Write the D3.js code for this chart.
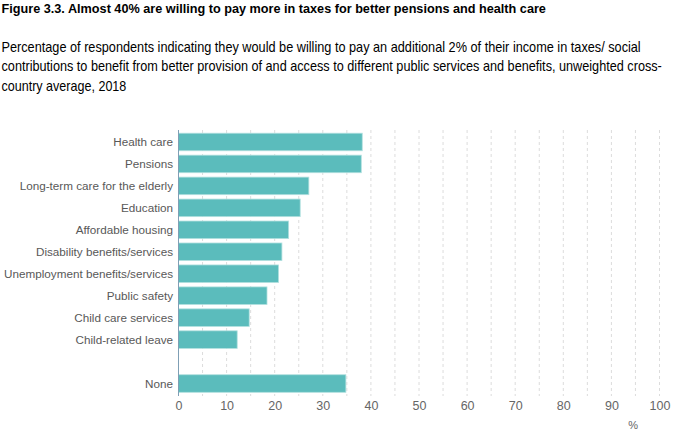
<!DOCTYPE html>
<html>
<head>
<meta charset="utf-8">
<script src="https://cdn.jsdelivr.net/npm/d3@7"></script>
<style>
  html, body { margin: 0; padding: 0; background: #fff; }
  svg { display: block; }
</style>
</head>
<body>
<svg id="chart" width="680" height="435"></svg>
<script>
const titleText = "Figure 3.3. Almost 40% are willing to pay more in taxes for better pensions and health care";
const subtitleLines = [
  "Percentage of respondents indicating they would be willing to pay an additional 2% of their income in taxes/ social",
  "contributions to benefit from better provision of and access to different public services and benefits, unweighted cross-",
  "country average, 2018"
];
const categories = [
  "Health care", "Pensions", "Long-term care for the elderly", "Education",
  "Affordable housing", "Disability benefits/services", "Unemployment benefits/services",
  "Public safety", "Child care services", "Child-related leave", "", "None"
];
const values = [38.2, 38.0, 27.1, 25.3, 22.9, 21.5, 20.8, 18.4, 14.7, 12.2, null, 34.8];
const xTicks = [0, 10, 20, 30, 40, 50, 60, 70, 80, 90, 100];
const gridTicks = d3.range(5, 101, 5);
const unitLabel = "%";

const svg = d3.select("#chart");
const sans = "'Liberation Sans', Arial, sans-serif";

// narrow-looking text: scale horizontally to the target width
function narrowText(txt, x0, y0, size, weight, targetW) {
  const t = svg.append("text").attr("x", 0).attr("y", 0)
    .attr("font-family", sans).attr("font-weight", weight).attr("font-size", size)
    .attr("fill", "#000").text(txt);
  const w = t.node().getComputedTextLength();
  const sx = w > 0 ? targetW / w : 1;
  t.attr("transform", `translate(${x0},${y0}) scale(${sx},1)`);
  return t;
}

narrowText(titleText, 1.5, 12.5, 13, "bold", 545);
const subLens = [640, 661, 125];
subtitleLines.forEach((t, i) => narrowText(t, 1.5, 51.5 + i * 19.5, 14, "normal", subLens[i]));

const x = d3.scaleLinear().domain([0, 100]).range([178.5, 659.5]);
const y = d3.scaleBand().domain(categories).range([131, 394.5]).paddingInner(0.2).paddingOuter(0.1);

// grid
svg.append("g").selectAll("line").data(gridTicks).join("line")
  .attr("x1", d => x(d)).attr("x2", d => x(d))
  .attr("y1", 130).attr("y2", 396)
  .attr("stroke", "#dcdcdc").attr("stroke-width", 1).attr("stroke-dasharray", "3,3");

// bars
const data = categories.map((c, i) => ({c, v: values[i]})).filter(d => d.v !== null);
svg.append("g").selectAll("rect").data(data).join("rect")
  .attr("x", x(0)).attr("y", d => y(d.c))
  .attr("width", d => x(d.v) - x(0)).attr("height", y.bandwidth())
  .attr("fill", "#5bbcbc").attr("stroke", "#b2e0df").attr("stroke-width", 0.8);

// y axis line
svg.append("line").attr("x1", x(0)).attr("x2", x(0)).attr("y1", 130).attr("y2", 396)
  .attr("stroke", "#7f9fb5").attr("stroke-width", 1);

// category labels
svg.append("g").selectAll("text").data(categories.filter(c => c)).join("text")
  .attr("x", 173).attr("y", d => y(d) + y.bandwidth() / 2)
  .attr("dy", "0.35em").attr("text-anchor", "end")
  .attr("font-family", sans).attr("font-size", 11.7).attr("fill", "#585858")
  .text(d => d);

// x tick labels
const xAxis = d3.axisBottom(x).tickValues(xTicks).tickSize(0).tickPadding(0);
const gx = svg.append("g").attr("transform", "translate(0,401)").call(xAxis);
gx.select(".domain").remove();
gx.selectAll("text").attr("font-family", sans).attr("font-size", 12.5).attr("fill", "#666").attr("dy", "0.71em");

svg.append("text").attr("x", x(94.5)).attr("y", 429)
  .attr("text-anchor", "middle").attr("font-family", sans).attr("font-size", 11)
  .attr("fill", "#666").text(unitLabel);
</script>
</body>
</html>
